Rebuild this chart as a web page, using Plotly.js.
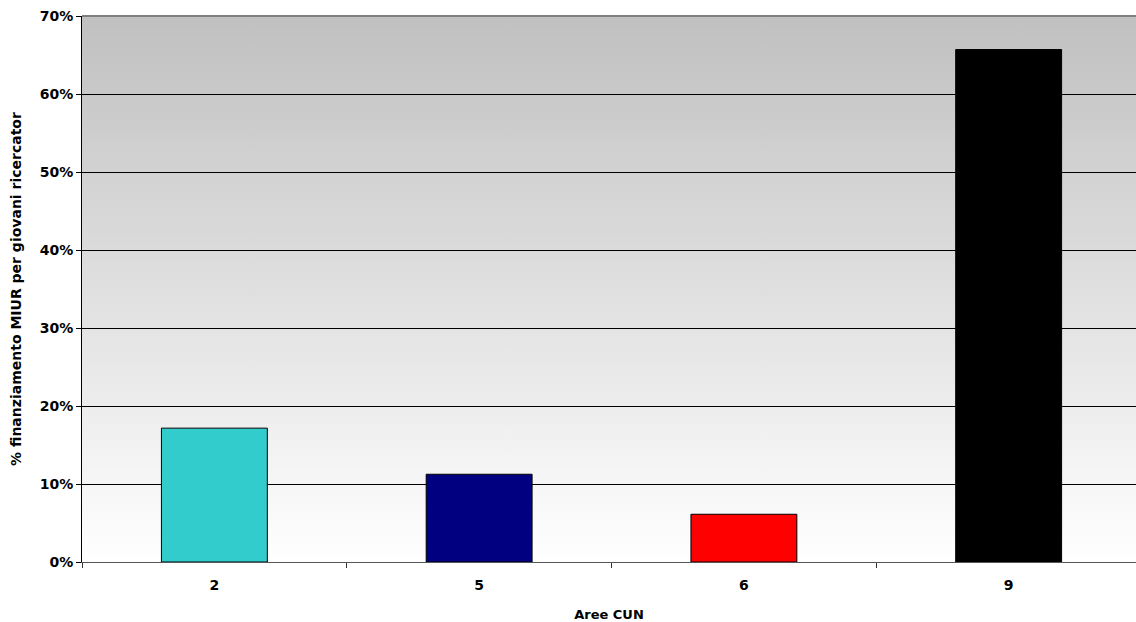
<!DOCTYPE html>
<html>
<head>
<meta charset="utf-8">
<script src="https://cdn.plot.ly/plotly-3.0.1.min.js"></script>
<style>html,body{margin:0;padding:0;background:#fff;}#chart{width:1136px;height:622px;}</style>
</head>
<body>
<div id="chart"></div>
<script>
const categories = ["2", "5", "6", "9"];
const values = [0.1716, 0.1125, 0.0612, 0.657];
const barColors = ["#33CCCC", "#000080", "#FF0000", "#000000"];
const yTickVals = [0, 0.1, 0.2, 0.3, 0.4, 0.5, 0.6, 0.7];
const yTickText = ["0%", "10%", "20%", "30%", "40%", "50%", "60%", "70%"];

const gradSvg = '<svg xmlns="http://www.w3.org/2000/svg" width="10" height="100" preserveAspectRatio="none">' +
  '<defs><linearGradient id="g" x1="0" y1="0" x2="0" y2="1">' +
  '<stop offset="0" stop-color="#c0c0c0"/><stop offset="1" stop-color="#ffffff"/></linearGradient></defs>' +
  '<rect width="10" height="100" fill="url(#g)"/></svg>';
const gradUrl = 'data:image/svg+xml;base64,' + btoa(gradSvg);

const fam = "DejaVu Sans, Verdana, sans-serif";

const trace = {
  type: "bar",
  x: categories,
  y: values,
  width: 0.4,
  marker: {color: barColors, line: {color: "#000", width: 1}},
  hoverinfo: "skip"
};

const layout = {
  width: 1136, height: 622,
  margin: {l: 82, r: 0, t: 16, b: 60},
  paper_bgcolor: "#ffffff",
  plot_bgcolor: "rgba(0,0,0,0)",
  showlegend: false,
  font: {family: fam, size: 13, color: "#000"},
  images: [{
    source: gradUrl, xref: "paper", yref: "paper",
    x: 0, y: 1, sizex: 1, sizey: 1, sizing: "stretch",
    xanchor: "left", yanchor: "top", layer: "below"
  }],
  xaxis: {
    type: "category",
    range: [-0.5, 3.481],
    tickfont: {family: fam, size: 14, color: "#000", weight: "bold"},
    showgrid: false,
    ticks: "outside", ticklen: 5, tickcolor: "#333",
    tickson: "boundaries",
    ticklabelstandoff: 10,
    showline: true, linecolor: "#555", linewidth: 1,
    zeroline: false,
    title: {text: "<b>Aree CUN</b>", font: {family: fam, size: 13, color: "#000"}, standoff: 18}
  },
  yaxis: {
    range: [0, 0.7],
    tickvals: yTickVals, ticktext: yTickText,
    tickfont: {family: fam, size: 14, color: "#000", weight: "bold"},
    showgrid: true, gridcolor: "#000", gridwidth: 1,
    ticks: "outside", ticklen: 5, tickcolor: "#000",
    showline: true, linecolor: "#000", linewidth: 1,
    zeroline: false,
    title: {text: "<b>% finanziamento MIUR per giovani ricercator</b>", font: {family: fam, size: 14, color: "#000"}, standoff: 14}
  },
  shapes: [{
    type: "line", xref: "paper", yref: "paper", x0: 0, x1: 1, y0: 1, y1: 1,
    line: {color: "#808080", width: 2}
  }]
};

Plotly.newPlot("chart", [trace], layout, {staticPlot: true, displayModeBar: false});
</script>
</body>
</html>
